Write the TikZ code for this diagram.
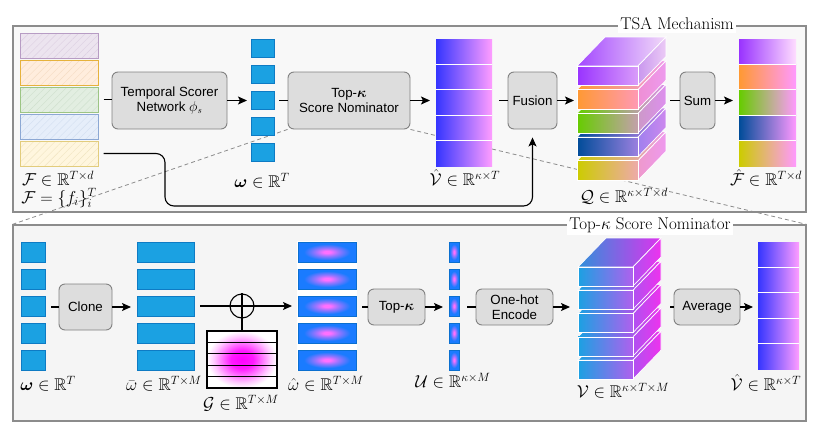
\documentclass[tikz,border=0pt]{standalone}
\usepackage{amsmath,amssymb}
\usepackage{fontspec}
\newfontfamily\boxfont{Liberation Sans}
\usetikzlibrary{arrows.meta,patterns.meta}
\pgfdeclarelayer{back}\pgfdeclarelayer{mid}\pgfsetlayers{back,mid,main}

\definecolor{topbg}{HTML}{F8F8F8}
\definecolor{botbg}{HTML}{F5F5F5}
\definecolor{frameclr}{HTML}{8C8C8C}
\definecolor{boxfill}{HTML}{DDDDDD}
\definecolor{boxline}{HTML}{828282}
\definecolor{cellblue}{HTML}{1BA1E2}
\definecolor{cellline}{HTML}{0E7BC4}
\definecolor{glowblue}{HTML}{1A7BFF}
\definecolor{glowpink}{HTML}{FF70FF}
\definecolor{glowline}{HTML}{0B6FD0}
\definecolor{vleft}{HTML}{3535FF}
\definecolor{vright}{HTML}{FF9DFF}
% feature stack
\definecolor{purb}{HTML}{B79CC4}\definecolor{purf}{HTML}{ECE4EF}\definecolor{purp}{HTML}{DCCFE2}
\definecolor{orab}{HTML}{E6B23C}\definecolor{oraf}{HTML}{FFEDDD}\definecolor{orap}{HTML}{F5DCC4}
\definecolor{greb}{HTML}{9CC584}\definecolor{gref}{HTML}{E2EEE1}\definecolor{grep}{HTML}{CFE0CD}
\definecolor{blub}{HTML}{8CA8D4}\definecolor{bluf}{HTML}{E6EEFA}\definecolor{blup}{HTML}{D2DEF0}
\definecolor{yelb}{HTML}{E2CC7C}\definecolor{yelf}{HTML}{FFF6DE}\definecolor{yelp}{HTML}{F0E4C0}
% output rows
\definecolor{rPur}{HTML}{9933FF}\definecolor{rPurR}{HTML}{FFDDFF}
\definecolor{rOra}{HTML}{FF9933}\definecolor{rGre}{HTML}{66CC00}
\definecolor{rBlu}{HTML}{004C99}\definecolor{rYel}{HTML}{CCCC00}
\definecolor{rPink}{HTML}{FF99FF}
% Q slabs
\definecolor{qPurR}{HTML}{D99CFA}\definecolor{qPurSL}{HTML}{C997EE}\definecolor{qPurSR}{HTML}{ECCBF6}
\definecolor{qOraR}{HTML}{FF99B4}\definecolor{qOraSL}{HTML}{EE8FD4}\definecolor{qOraSR}{HTML}{EE9AEE}
\definecolor{qGreR}{HTML}{C4A0AC}\definecolor{qGreSL}{HTML}{CC99C8}\definecolor{qGreSR}{HTML}{DD8FEE}
\definecolor{qBluR}{HTML}{9B80E0}\definecolor{qBluSL}{HTML}{A080EE}\definecolor{qBluSR}{HTML}{CC88EE}
\definecolor{qYelR}{HTML}{EEAAAA}\definecolor{qYelSL}{HTML}{EE99CC}\definecolor{qYelSR}{HTML}{EE99EE}
% V slabs
\definecolor{vFL}{HTML}{1BA1E2}\definecolor{vFR}{HTML}{B060EE}
\definecolor{vSL}{HTML}{B050F0}\definecolor{vSR}{HTML}{EE33EE}
\definecolor{vTL}{HTML}{3090DA}\definecolor{vTR}{HTML}{DD33EE}

\pgfdeclareradialshading{glow}{\pgfpoint{0bp}{0bp}}{color(0bp)=(glowpink); color(3bp)=(glowpink); color(10bp)=(glowpink!55!glowblue); color(20bp)=(glowblue); color(50bp)=(glowblue)}
\pgfdeclareradialshading{gblob}{\pgfpoint{0bp}{0bp}}{color(0bp)=(magenta); color(8bp)=(magenta!90!white); color(20bp)=(magenta!22!white); color(25bp)=(white); color(50bp)=(white)}

\def\slx{577}\def\slw{61}\def\slh{19.5}\def\sldx{28}\def\sldy{29}
% #1 top y, #2 #3 front, #4 #5 side, #6 #7 top
\newcommand\qslab[7]{%
  \draw[draw=white, line width=0.7pt, left color=#6, right color=#7] (\slx,#1) -- ++(\sldx,-\sldy) -- ++(\slw,0) -- ({\slx+\slw},#1) -- cycle;
  \draw[draw=white, line width=0.7pt, left color=#4, right color=#5] ({\slx+\slw},#1) -- ++(\sldx,-\sldy) -- ++(0,\slh) -- ({\slx+\slw},{#1+\slh}) -- cycle;
  \draw[draw=white, line width=0.7pt, left color=#2, right color=#3] (\slx,#1) rectangle ++(\slw,\slh);
}

\begin{document}
\begin{tikzpicture}[x=1pt,y=-1pt,
  font=\fontsize{17}{20}\selectfont,
  container/.style={draw=frameclr, line width=1.2pt, inner sep=0pt},
  ttl/.style={fill=white, inner sep=2.5pt},
  proc/.style={draw=boxline, fill=boxfill, rounded corners=6pt, line width=0.9pt, inner sep=0pt, align=center, font=\boxfont\fontsize{13.3}{15.5}\selectfont},
  holder/.style={inner sep=0pt, outer sep=0pt},
  ln/.style={line width=1.1pt, draw=black},
  arr/.style={ln, -{Stealth[length=9pt,width=8pt,inset=2pt]}},
  dashln/.style={draw=frameclr, dash pattern=on 4pt off 3pt, line width=0.8pt},
  sq/.style={draw=cellline, fill=cellblue, line width=0.8pt},
  glowcell/.style={draw=glowline, line width=0.8pt, shading=glow},
  lbl/.style={inner sep=0pt},
  feat/.style={line width=1pt, minimum width=78pt, minimum height=25pt, inner sep=0pt,
    pattern={Lines[angle=45,distance=5pt,line width=0.4pt]}},
]
\useasboundingbox (0,0) rectangle (831,437);

% containers
\begin{pgfonlayer}{back}
\node[container, fill=topbg, minimum width=793pt, minimum height=186pt] (tsa) at (409.5,119) {};
\node[container, fill=botbg, minimum width=793pt, minimum height=196pt] (tkn) at (409.5,323) {};
\end{pgfonlayer}

% ---------------- top row ----------------
\node[feat, draw=purb, preaction={fill=purf}, pattern color=purp] (f1) at (59,45.5) {};
\node[feat, draw=orab, preaction={fill=oraf}, pattern color=orap] (f2) at (59,72.5) {};
\node[feat, draw=greb, preaction={fill=gref}, pattern color=grep] (f3) at (59,99.5) {};
\node[feat, draw=blub, preaction={fill=bluf}, pattern color=blup] (f4) at (59,126.5) {};
\node[feat, draw=yelb, preaction={fill=yelf}, pattern color=yelp] (f5) at (59,153.5) {};

\node[proc, minimum width=115pt, minimum height=57pt] (tsn) at (169.5,100.5) {Temporal Scorer\\Network $\phi_s$};

\node[holder, minimum width=23pt, minimum height=124pt] (om1) at (262.5,101) {};
\foreach \k in {0,...,4} \draw[sq] (251,{39+26*\k}) rectangle ++(23,18);

\node[proc, minimum width=122pt, minimum height=57pt] (nom) at (349,100.5) {Top-$\boldsymbol{\kappa}$\\Score Nominator};

\node[holder, minimum width=56pt, minimum height=127pt] (Vh1) at (464,102.5) {};
\fill[left color=vleft, right color=vright] (436,39) rectangle (492,166);
\foreach \k in {1,...,4} \draw[white, line width=1pt] (436,{39+25.4*\k}) -- ++(56,0);

\node[proc, minimum width=49pt, minimum height=57pt] (fus) at (532.5,100.5) {Fusion};

\node[holder, minimum width=89pt, minimum height=142pt] (Qst) at (621.5,108) {};
\qslab{160.8}{rYel}{qYelR}{qYelSL}{qYelSR}{rYel}{qYelSR}
\qslab{137.1}{rBlu}{qBluR}{qBluSL}{qBluSR}{rBlu}{qBluSR}
\qslab{113.4}{rGre}{qGreR}{qGreSL}{qGreSR}{rGre}{qGreSR}
\qslab{89.7}{rOra}{qOraR}{qOraSL}{qOraSR}{rOra}{qOraSR}
\qslab{66}{rPur}{qPurR}{qPurSL}{qPurSR}{rPur!90!white}{qPurSR!70!white}

\node[proc, minimum width=35pt, minimum height=57pt] (sum) at (697.5,100.5) {Sum};

\node[holder, minimum width=57pt, minimum height=127pt] (Fh) at (767.5,102.5) {};
\fill[left color=rPur, right color=rPurR] (739,39) rectangle ++(57,25.4);
\fill[left color=rOra, right color=rPink] (739,64.4) rectangle ++(57,25.4);
\fill[left color=rGre, right color=rPink] (739,89.8) rectangle ++(57,25.4);
\fill[left color=rBlu, right color=rPink] (739,115.2) rectangle ++(57,25.4);
\fill[left color=rYel, right color=rPink] (739,140.6) rectangle ++(57,25.4);
\foreach \k in {1,...,4} \draw[white, line width=1pt] (739,{39+25.4*\k}) -- ++(57,0);

% top labels
\node[lbl] (lF1) at (58,179) {$\mathcal{F}\in\mathbb{R}^{T\times d}$};
\node[lbl] (lF2) at (59,198) {$\mathcal{F}=\{f_i\}_i^T$};
\node[lbl] (lom1) at (262,181) {$\boldsymbol{\omega}\in\mathbb{R}^T$};
\node[lbl] (lVh1) at (465,178) {$\hat{\mathcal{V}}\in\mathbb{R}^{\kappa\times T}$};
\node[lbl] (lQ) at (624,196) {$\mathcal{Q}\in\mathbb{R}^{\kappa\times T\times d}$};
\node[lbl] (lFh) at (766,178) {$\hat{\mathcal{F}}\in\mathbb{R}^{T\times d}$};

% top connectors
\draw[ln, shorten <=5pt] (f3.east) -- (f3.east -| tsn.west);
\draw[arr, shorten >=4pt] (tsn.east) -- (tsn.east -| om1.west);
\draw[ln, shorten <=5pt] (om1.east |- nom.west) -- (nom.west);
\draw[arr, shorten >=6pt] (nom.east) -- (nom.east -| Vh1.west);
\draw[ln, shorten <=7pt] (Vh1.east |- fus.west) -- (fus.west);
\draw[arr, shorten >=3pt] (fus.east) -- (fus.east -| Qst.west);
\draw[ln, shorten <=4pt] (Qst.east |- sum.west) -- (sum.west);
\draw[arr, shorten >=6pt] (sum.east) -- (sum.east -| Fh.west);
\coordinate (bend) at (165,206);
\draw[arr, rounded corners=9pt, shorten <=5pt, shorten >=8pt] (f5.east) -| (bend) -| (fus.south);

% ---------------- bottom row ----------------
\node[holder, minimum width=24pt, minimum height=128pt] (om2) at (33,306) {};
\foreach \k in {0,...,4} \draw[sq] (21,{242+27*\k}) rectangle ++(24,20);

\node[proc, minimum width=53pt, minimum height=46pt] (clone) at (85.5,307) {Clone};

\node[holder, minimum width=57pt, minimum height=128pt] (omb) at (165.5,306) {};
\foreach \k in {0,...,4} \draw[sq] (137,{242+27*\k}) rectangle ++(57,20);

\node[holder, minimum width=70pt, minimum height=57pt] (G) at (242,359.5) {};
\shade[shading=gblob] (207,331) rectangle (277,388);
\foreach \yy in {342.4,353.8,365.2,376.6} \draw[line width=1pt] (207,\yy) -- (277,\yy);
\draw[line width=1.2pt] (207,331) rectangle (277,388);

\node[draw, circle, line width=1.1pt, minimum size=24pt, inner sep=0pt] (oplus) at (242,306) {};

\node[holder, minimum width=58pt, minimum height=128pt] (omh) at (327,306) {};
\fill[white] (297,241) rectangle (357,371);
\foreach \k in {0,...,4} \shadedraw[glowcell] (298,{242+27*\k}) rectangle ++(58,20);

\node[proc, minimum width=57pt, minimum height=36pt] (topk) at (396.5,307) {Top-$\boldsymbol{\kappa}$};

\node[holder, minimum width=10pt, minimum height=128pt] (U) at (454,306) {};
\foreach \k in {0,...,4} \shadedraw[glowcell] (449,{242+27*\k}) rectangle ++(10,20);

\node[proc, minimum width=77pt, minimum height=36pt] (onehot) at (514.5,307) {One-hot\\Encode};

\node[holder, minimum width=83pt, minimum height=141pt] (Vst) at (619.5,308.5) {};
\def\slx{578}\def\slw{55}\def\slh{19}
\qslab{360.2}{vFL}{vFR}{vSL}{vSR}{vFL}{vSR}
\qslab{336.9}{vFL}{vFR}{vSL}{vSR}{vFL}{vSR}
\qslab{313.6}{vFL}{vFR}{vSL}{vSR}{vFL}{vSR}
\qslab{290.3}{vFL}{vFR}{vSL}{vSR}{vFL}{vSR}
\qslab{267}{vFL}{vFR}{vSL}{vSR}{vTL}{vTR}

\node[proc, minimum width=66pt, minimum height=36pt] (avg) at (707,307) {Average};

\node[holder, minimum width=41pt, minimum height=127pt] (Vh2) at (778.5,305.5) {};
\fill[left color=vleft, right color=vright] (758,242) rectangle (799,369);
\foreach \k in {1,...,4} \draw[white, line width=1pt] (758,{242+25.4*\k}) -- ++(41,0);

% bottom labels
\node[lbl] (lom2) at (48,384) {$\boldsymbol{\omega}\in\mathbb{R}^T$};
\node[lbl] (lomb) at (164,384) {$\bar{\omega}\in\mathbb{R}^{T\times M}$};
\node[lbl] (lG) at (241,403) {$\mathcal{G}\in\mathbb{R}^{T\times M}$};
\node[lbl] (lomh) at (326,384) {$\hat{\omega}\in\mathbb{R}^{T\times M}$};
\node[lbl] (lU) at (453,381) {$\mathcal{U}\in\mathbb{R}^{\kappa\times M}$};
\node[lbl] (lV) at (623,391) {$\mathcal{V}\in\mathbb{R}^{\kappa\times T\times M}$};
\node[lbl] (lVh2) at (766,383) {$\hat{\mathcal{V}}\in\mathbb{R}^{\kappa\times T}$};

% bottom connectors
\draw[ln, shorten <=6pt] (om2.east |- clone.west) -- (clone.west);
\draw[arr, shorten >=6pt] (clone.east) -- (clone.east -| omb.west);
\draw[arr, shorten <=6pt, shorten >=6pt] (omb.east |- oplus) -- (oplus -| omh.west);
\draw[ln] (oplus.north) -- (oplus.south);
\draw[ln] (oplus.south) -- (G.north);
\draw[ln, shorten <=6pt] (omh.east |- topk.west) -- (topk.west);
\draw[arr, shorten >=6pt] (topk.east) -- (topk.east -| U.west);
\draw[ln, shorten <=8pt] (U.east |- onehot.west) -- (onehot.west);
\draw[arr, shorten >=8pt] (onehot.east) -- (onehot.east -| Vst.west);
\draw[ln, shorten <=9pt] (Vst.east |- avg.west) -- (avg.west);
\draw[arr, shorten >=5pt] (avg.east) -- (avg.east -| Vh2.west);

% zoom lines
\begin{pgfonlayer}{mid}
\draw[dashln] (nom.south west) -- (tkn.north west);
\draw[dashln] (nom.south east) -- (tkn.north east);
\end{pgfonlayer}

% titles
\node[ttl] (tsattl) at (677,24) {TSA Mechanism};
\node[ttl] (tknttl) at (650,225) {Top-$\kappa$ Score Nominator};
\end{tikzpicture}
\end{document}
